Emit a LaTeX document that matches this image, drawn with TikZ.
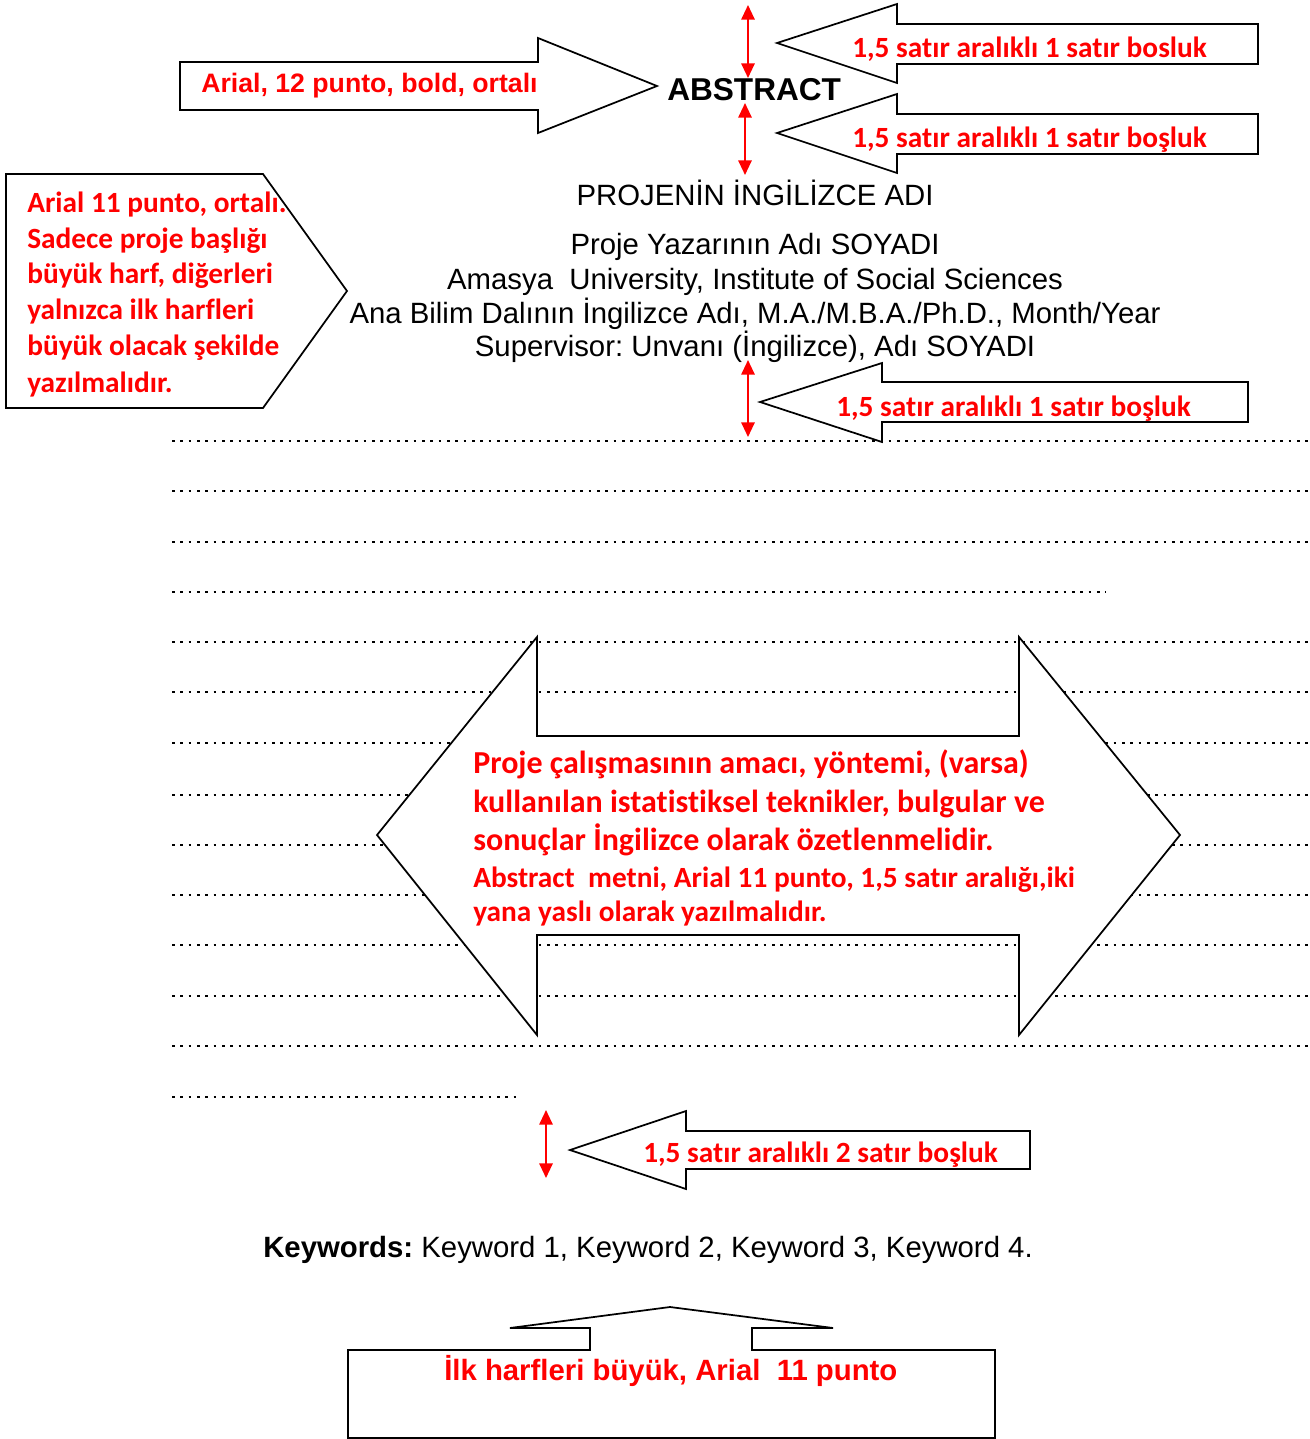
\documentclass[tikz,border=0pt]{standalone}
\usepackage{fontspec}
\setmainfont{Liberation Sans}
\newfontfamily\calib[Ligatures=NoCommon]{Carlito}
\usetikzlibrary{arrows.meta}
\frenchspacing
\begin{document}
\begin{tikzpicture}[x=0.75pt,y=-0.75pt,
  shp/.style={draw=black, line width=1.3pt, fill=white},
  dotline/.style={line width=2.1pt, dash pattern=on 2.1pt off 4.15pt},
  gap/.style={red, line width=1.5pt, {Triangle[length=11pt,width=10pt]}-{Triangle[length=11pt,width=10pt]}},
  rednote/.style={text=red, font=\calib\bfseries\fontsize{22}{27}\selectfont, inner sep=0, anchor=base west},
  redbig/.style={text=red, font=\calib\bfseries\fontsize{24}{28}\selectfont, inner sep=0, anchor=base west},
  redarial/.style={text=red, font=\bfseries\fontsize{22}{26}\selectfont, inner sep=0, anchor=base west},
  blk/.style={text=black, font=\fontsize{22}{26}\selectfont, inner sep=0, anchor=base}]
\useasboundingbox (0,0) rectangle (1310,1439);
% dotted lines
\foreach \yy in {441,491,542,642,692,743,795,845,895,945,996,1046}
  \draw[dotline] (172,\yy) -- (1312,\yy);
\draw[dotline] (172,592) -- (1106,592);
\draw[dotline] (172,1097) -- (520,1097);
% shapes
\draw[shp] (180,62) -- (538,62) -- (538,38) -- (657,86) -- (538,133) -- (538,110) -- (180,110) -- cycle;
\draw[shp] (777,43) -- (897,4) -- (897,24) -- (1258,24) -- (1258,64) -- (897,64) -- (897,83) -- cycle;
\draw[shp] (777,133) -- (897,94) -- (897,114) -- (1258,114) -- (1258,154) -- (897,154) -- (897,173) -- cycle;
\draw[shp] (760,402) -- (882,363) -- (882,382) -- (1248,382) -- (1248,422) -- (882,422) -- (882,442) -- cycle;
\draw[shp] (570,1150) -- (686,1111) -- (686,1131) -- (1030,1131) -- (1030,1169) -- (686,1169) -- (686,1189) -- cycle;
\draw[shp] (6,174) -- (263,174) -- (347,291) -- (263,408) -- (6,408) -- cycle;
\draw[shp] (377,835) -- (537,637) -- (537,736) -- (1019,736) -- (1019,637) -- (1180,835) -- (1019,1035) -- (1019,935) -- (537,935) -- (537,1035) -- cycle;
\draw[shp] (348,1350) -- (590,1350) -- (590,1328) -- (510,1328) -- (670,1307) -- (833,1328) -- (752,1328) -- (752,1350) -- (995,1350) -- (995,1438) -- (348,1438) -- cycle;
% red spacing arrows
\coordinate (g1a) at (748,5);    \coordinate (g1b) at (748,78);
\coordinate (g2a) at (745,103);  \coordinate (g2b) at (745,175);
\coordinate (g3a) at (748,360);  \coordinate (g3b) at (748,437);
\coordinate (g4a) at (546,1110); \coordinate (g4b) at (546,1178);
\draw[gap] (g1a) -- (g1b);
\draw[gap] (g2a) -- (g2b);
\draw[gap] (g3a) -- (g3b);
\draw[gap] (g4a) -- (g4b);
% texts
\node[redarial, font=\bfseries\fontsize{20}{24}\selectfont] (arialnote) at (201,92) {Arial, 12 punto, bold, ortalı};
\node[inner sep=0, anchor=base west, font=\bfseries\fontsize{23.7}{28}\selectfont] (abs) at (667,100) {ABSTRACT};
\node[rednote] (s1) at (852,57) {1,5 satır aralıklı 1 satır bosluk};
\node[rednote] (s2) at (852,147) {1,5 satır aralıklı 1 satır boşluk};
\node[rednote] (s3) at (836,416) {1,5 satır aralıklı 1 satır boşluk};
\node[rednote] (s4) at (643,1162) {1,5 satır aralıklı 2 satır boşluk};
\node[rednote] (p1) at (27,212) {Arial 11 punto, ortalı.};
\node[rednote] (p2) at (27,248) {Sadece proje başlığı};
\node[rednote] (p3) at (27,283) {büyük harf, diğerleri};
\node[rednote] (p4) at (27,319) {yalnızca ilk harfleri};
\node[rednote] (p5) at (27,355) {büyük olacak şekilde};
\node[rednote] (p6) at (27,392) {yazılmalıdır.};
\node[blk] (b1) at (755,205) {PROJENİN İNGİLİZCE ADI};
\node[blk] (b2) at (755,254) {Proje Yazarının Adı SOYADI};
\node[blk] (b3) at (755,289) {Amasya\ \ University, Institute of Social Sciences};
\node[blk] (b4) at (755,323) {Ana Bilim Dalının İngilizce Adı, M.A./M.B.A./Ph.D., Month/Year};
\node[blk] (b5) at (755,356) {Supervisor: Unvanı (İngilizce), Adı SOYADI};
\node[redbig] (m1) at (473,773) {Proje çalışmasının amacı, yöntemi, (varsa)};
\node[redbig] (m2) at (473,812) {kullanılan istatistiksel teknikler, bulgular ve};
\node[redbig] (m3) at (473,850) {sonuçlar İngilizce olarak özetlenmelidir.};
\node[rednote] (m4) at (473,887) {Abstract\ \ metni, Arial 11 punto, 1,5 satır aralığı,iki};
\node[rednote] (m5) at (473,921) {yana yaslı olarak yazılmalıdır.};
\node[blk, anchor=base west] (kw) at (263,1257) {\textbf{Keywords:} Keyword 1, Keyword 2, Keyword 3, Keyword 4.};
\node[redarial] (ilk) at (444,1380) {İlk harfleri büyük, Arial\ \ 11 punto};
\end{tikzpicture}
\end{document}
